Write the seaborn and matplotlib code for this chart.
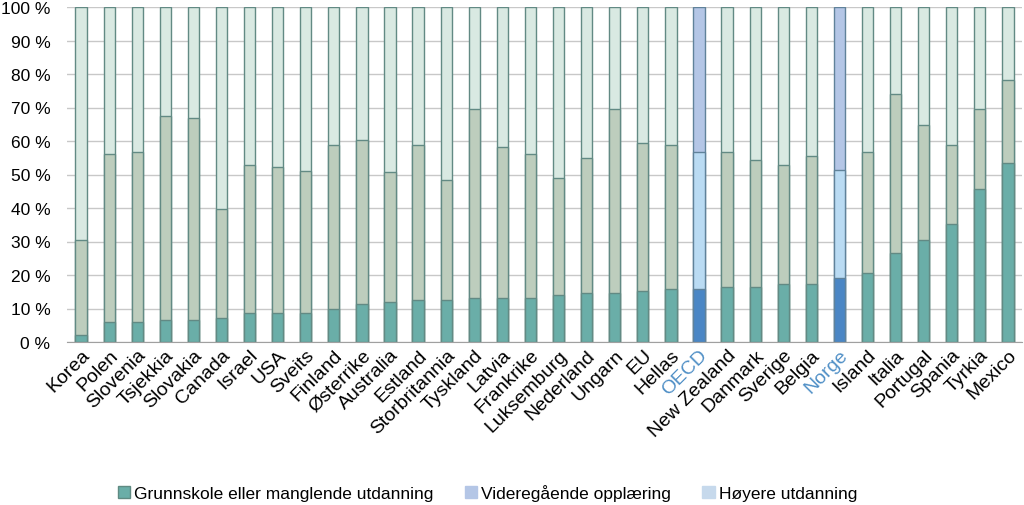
import pandas as pd
import seaborn as sns
from matplotlib import pyplot as plt
from matplotlib.patches import Patch
import matplotlib.ticker as mtick

land = ["Korea", "Polen", "Slovenia", "Tsjekkia", "Slovakia", "Canada", "Israel",
        "USA", "Sveits", "Finland", "Østerrike", "Australia", "Estland",
        "Storbritannia", "Tyskland", "Latvia", "Frankrike", "Luksemburg",
        "Nederland", "Ungarn", "EU", "Hellas", "OECD", "New Zealand", "Danmark",
        "Sverige", "Belgia", "Norge", "Island", "Italia", "Portugal", "Spania",
        "Tyrkia", "Mexico"]
grunnskole = [2.0, 6.0, 6.0, 6.6, 6.6, 7.2, 8.6, 8.6, 8.6, 9.9, 11.2, 11.8, 12.5,
              12.5, 13.1, 13.1, 13.1, 13.9, 14.5, 14.5, 15.1, 15.8, 15.8, 16.5,
              16.5, 17.2, 17.2, 19.1, 20.5, 26.5, 30.4, 35.1, 45.6, 53.5]
videregaende = [28.3, 50.2, 50.8, 60.9, 60.2, 32.4, 44.3, 43.6, 42.3, 49.0, 49.0,
                39.0, 46.4, 35.8, 56.4, 45.1, 43.1, 35.1, 40.4, 55.0, 44.4, 43.1,
                41.0, 40.3, 37.7, 35.7, 38.3, 32.2, 36.3, 47.6, 34.5, 23.8, 23.9, 24.6]
hoyere = [69.7, 43.8, 43.2, 32.5, 33.2, 60.4, 47.1, 47.8, 49.1, 41.1, 39.8, 49.2,
          41.1, 51.7, 30.5, 41.8, 43.8, 51.0, 45.1, 30.5, 40.5, 41.1, 43.2, 43.2,
          45.8, 47.1, 44.5, 48.7, 43.2, 25.9, 35.1, 41.1, 30.5, 21.9]
utheva = ["OECD", "Norge"]

df = pd.DataFrame({"land": land, "g": grunnskole, "v": videregaende, "h": hoyere})
df["cum_v"] = df["g"] + df["v"]
df["cum_h"] = df["cum_v"] + df["h"]

plt.rcParams["font.family"] = ["Liberation Sans", "DejaVu Sans"]
plt.rcParams["font.size"] = 12

fig = plt.figure(figsize=(10.24, 5.06), dpi=100)
ax = fig.add_axes([67 / 1024, 163 / 506, 955 / 1024, 335 / 506])

farger = {
    "h": ("#d9e9e2", "#b4c6e6"),
    "cum_v": ("#bdcdbd", "#badbf3"),
    "g": ("#6aaea8", "#4a86c5"),
}
for col in ["cum_h", "cum_v", "g"]:
    key = "h" if col == "cum_h" else col
    normal, blue = farger[key]
    pal = {l: (blue if l in utheva else normal) for l in land}
    sns.barplot(data=df, x="land", y=col, hue="land", palette=pal, legend=False,
                width=0.4, ax=ax, edgecolor="#628a84", linewidth=1, saturation=1)

for p, l in zip(ax.patches, land * 3):
    if l in utheva:
        p.set_edgecolor("#60829a")

ax.set_xlim(-0.5, len(land) - 0.5)
ax.set_ylim(0, 100)
ax.yaxis.set_major_locator(mtick.MultipleLocator(10))
ax.yaxis.set_major_formatter(mtick.FuncFormatter(lambda v, _: f"{v:.0f} %"))
ax.yaxis.grid(True, color="#c8c8c8", linewidth=1)
ax.set_axisbelow(True)
for s in ["top", "right", "left"]:
    ax.spines[s].set_visible(False)
ax.spines["bottom"].set_color("#a0a0a0")
ax.tick_params(axis="both", length=0, colors="black")
ax.tick_params(axis="y", pad=12, labelsize=12.5)
ax.tick_params(axis="x", pad=3, labelsize=14)
ax.set_xlabel("")
ax.set_ylabel("")
ax.set_xticks(range(len(land)))
ax.set_xticklabels(land, rotation=45, ha="right", rotation_mode="anchor")
for t in ax.get_xticklabels():
    if t.get_text() in utheva:
        t.set_color("#4f8fc6")

handles = [Patch(facecolor="#6aaea8", edgecolor="#5f8a82", label="Grunnskole eller manglende utdanning"),
           Patch(facecolor="#b4c6e6", edgecolor="#b4c6e6", label="Videregående opplæring"),
           Patch(facecolor="#c6d9ec", edgecolor="#c6d9ec", label="Høyere utdanning")]
fig.legend(handles=handles, loc="center", bbox_to_anchor=(0.476, 0.025), ncol=3,
           frameon=False, fontsize=12.5, handlelength=0.7, handleheight=0.7,
           handletextpad=0.25, columnspacing=1.8)

fig.savefig("out.png", dpi=100)
